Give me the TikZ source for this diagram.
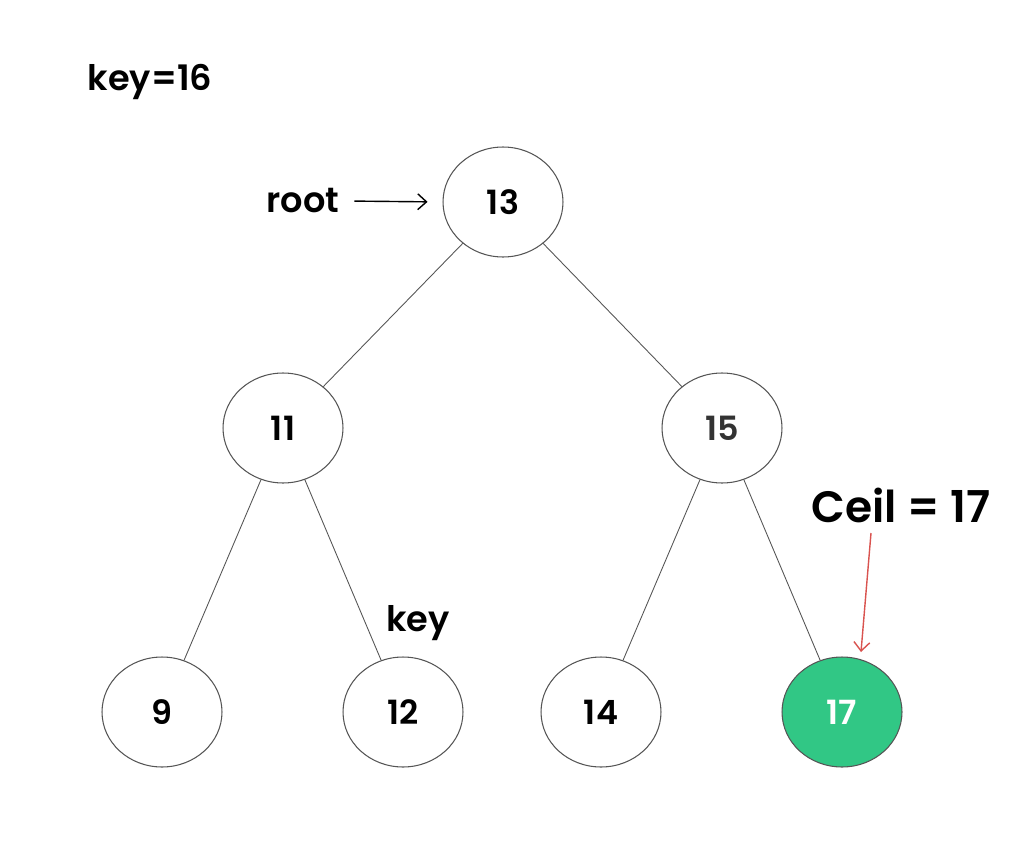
\documentclass[tikz,border=0pt]{standalone}
\usepackage{fontspec}
\setmainfont{Poppins}[BoldFont={Poppins SemiBold}]
\usepackage{tikz}
\usetikzlibrary{arrows.meta}
\usetikzlibrary{shapes.geometric}
\definecolor{ceilgreen}{HTML}{31C785}
\definecolor{ceilred}{HTML}{D9534F}
\definecolor{edgegray}{HTML}{555555}
\tikzset{
    tree node/.style={
        draw=edgegray,
        ellipse,
        line width=0.6pt,
        minimum width =2.4cm,
        minimum height=2.2cm,
        inner sep=0pt,
        font=\bfseries\fontsize{19}{22}\selectfont
    },
    tree edge/.style={
        draw=edgegray,
        line width=0.5pt
    },
    label text/.style={
        font=\bfseries\fontsize{20}{24}\selectfont
    },
    pointer/.style={
        -{Straight Barb[length=5pt,width=9pt]},
        line width=0.8pt
    }
}
\begin{document}
\begin{tikzpicture}[x=0.02cm,y=-0.02cm]
            \useasboundingbox (0,0) rectangle (1024,865);
            % the tree
            \node[tree node] (n13) at (503,202) {13};
            \node[tree node] (n11) at (283,428) {11};
            \node[tree node] (n15) at (722,428) {\textcolor{black!80}{15}};
            \node[tree node] (n9)  at (162,712) {9};
            \node[tree node] (n12) at (403,712) {12};
            \node[tree node] (n14) at (601,712) {14};
            \node[tree node,fill=ceilgreen,text=white] (n17) at (842,712) {17};
            \foreach \s/\t in {13/11,13/15,11/9,11/12,15/14,15/17}
              \draw[tree edge] (n\s) -- (n\t);
            % labels
            \node[label text] (keyval) at (150,82) {key=16};
            \node[label text] (root) at (303,201) {root};
            \node[label text] (key) at (418,623) {key};
            \node[font=\bfseries\fontsize{25}{30}\selectfont] (ceil) at (901,505) {Ceil = 17};
            \coordinate (ceilfrom) at (871,533);
            \coordinate (ceilto) at (861,652);
            \draw[pointer,shorten <=5pt,shorten >=8.5pt] (root.east) -- (n13.west);
            \draw[pointer,ceilred] (ceilfrom) -- (ceilto);
          \end{tikzpicture}
\end{document}
